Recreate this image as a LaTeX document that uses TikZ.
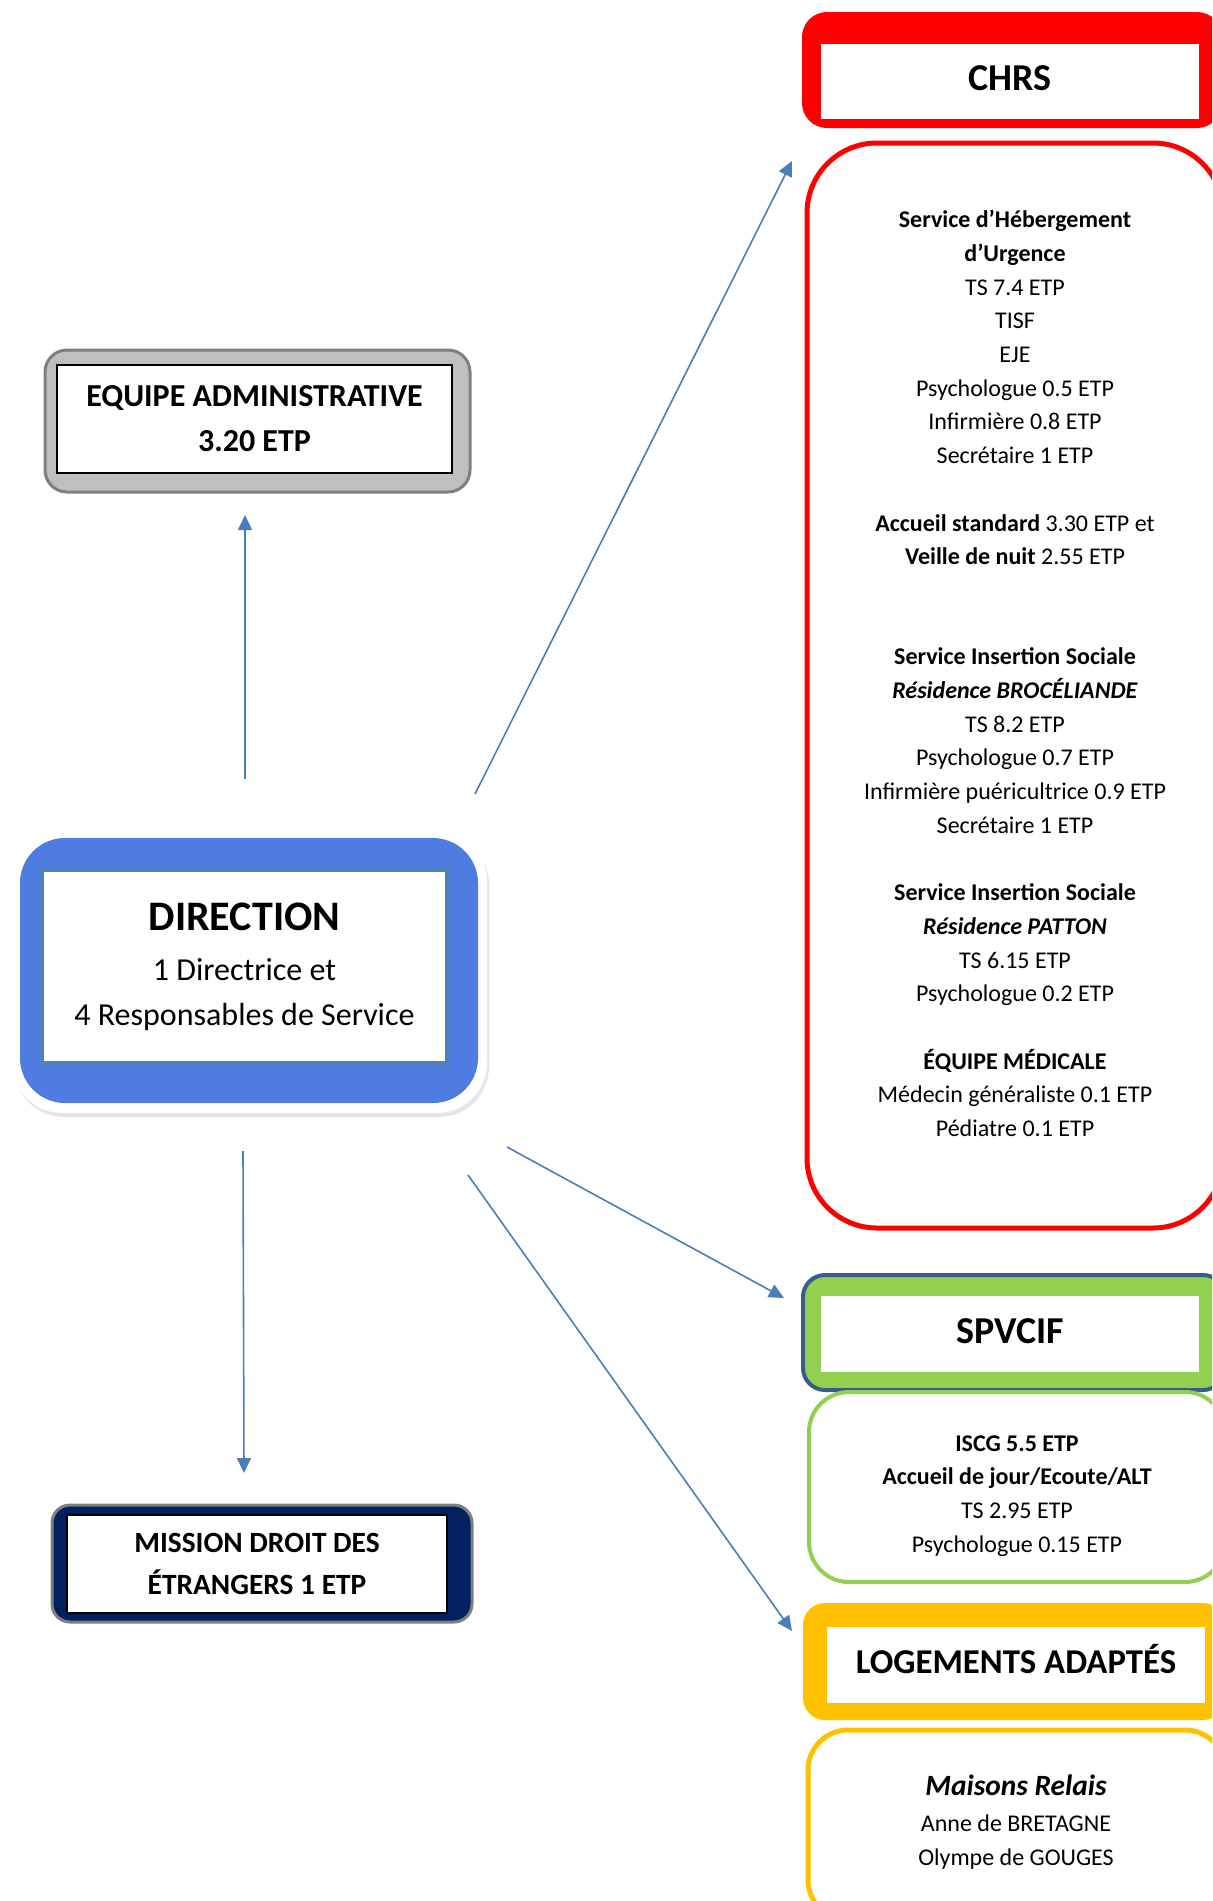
\documentclass[tikz,border=0pt]{standalone}
\usepackage{fontspec}
\setmainfont{Carlito}
\usetikzlibrary{arrows.meta,shadows}

\definecolor{dirblue}{RGB}{79,124,224}
\definecolor{dirline}{RGB}{79,129,189}
\definecolor{arrowblue}{RGB}{74,126,187}
\definecolor{spvgreen}{RGB}{146,208,80}
\definecolor{spvnavy}{RGB}{56,93,138}
\definecolor{logorange}{RGB}{255,192,0}
\definecolor{mdenavy}{RGB}{0,32,96}
\definecolor{admgray}{RGB}{191,191,191}
\definecolor{admline}{RGB}{127,127,127}

\begin{document}
\begin{tikzpicture}[x=0.5pt,y=-0.5pt,
        outersty/.style={
            rounded corners=11pt, inner sep=0pt,
        },
        innersty/.style={
            fill=white, inner sep=0pt, align=center,
        },
        bodysty/.style={
            fill=white, rounded corners=20pt, inner sep=0pt,
        },
        txtsty/.style={
            align=center, inner sep=0pt, font=\fontsize{12}{16.85}\selectfont,
        },
        headsty/.style={
            font=\fontsize{19}{22}\selectfont\bfseries,
        },
        arrowsty/.style={
            draw=arrowblue, line width=0.8pt, -{Triangle[length=7.5pt,width=7pt]}
        }
    ]
    \useasboundingbox (0,0) rectangle (1212,1901);
    \clip (0,0) rectangle (1212,1901);

    \node[outersty, fill=admgray, draw=admline, line width=1.5pt, minimum width=212.5pt, minimum height=71pt] (adm) at (257.5,421) {};
    \node[innersty, draw=black, line width=0.8pt, minimum width=197.5pt, minimum height=54pt, font=\fontsize{16}{22.5}\selectfont\bfseries] (admtxt) at (254.5,419) {EQUIPE ADMINISTRATIVE\\3.20 ETP};

    \node[fill=white, rounded corners=25pt, minimum width=237.5pt, minimum height=141.5pt, drop shadow={shadow xshift=1pt, shadow yshift=-2pt, opacity=0.2, fill=gray}] (dirglow) at (249.5,971.5) {};
    \node[fill=dirblue, rounded corners=22.5pt, minimum width=229pt, minimum height=132.5pt] (dir) at (249,970.5) {};
    \node[innersty, draw=dirline, line width=2pt, minimum width=202.5pt, minimum height=96.5pt, font=\fontsize{16}{22.5}\selectfont] (dirtxt) at (244.5,966.5) {{\fontsize{21}{25}\selectfont\bfseries DIRECTION}\\[2.5pt]1 Directrice et\\4 Responsables de Service};

    \node[outersty, rounded corners=9pt, fill=mdenavy, draw=admline, line width=1.5pt, minimum width=210pt, minimum height=58.5pt] (mde) at (262,1563.5) {};
    \node[innersty, draw=black, line width=0.8pt, minimum width=190pt, minimum height=49pt, font=\fontsize{14.7}{21}\selectfont\bfseries] (mdetxt) at (257,1564) {MISSION DROIT DES\\ÉTRANGERS 1 ETP};

    \node[outersty, rounded corners=12.5pt, fill=red, minimum width=210pt, minimum height=58pt] (chrs) at (1012,70) {};
    \node[innersty, headsty, minimum width=189pt, minimum height=37.5pt, text depth=3pt] (chrstxt) at (1010,81.5) {CHRS};
    \node[bodysty, draw=red, line width=2.5pt, rounded corners=35pt, minimum width=208pt, minimum height=542.5pt] (chrsbody) at (1015,685.5) {};
    \node[txtsty] (chrslist) at (1015,673.5) {\textbf{Service d’Hébergement}\\\textbf{d’Urgence}\\TS 7.4 ETP\\TISF\\EJE\\Psychologue 0.5 ETP\\Infirmière 0.8 ETP\\Secrétaire 1 ETP\\[16.85pt]\textbf{Accueil standard} 3.30 ETP et\\\textbf{Veille de nuit} 2.55 ETP\\[33.2pt]\textbf{Service Insertion Sociale}\\\textbf{\itshape Résidence BROCÉLIANDE}\\TS 8.2 ETP\\Psychologue 0.7 ETP\\Infirmière puéricultrice 0.9 ETP\\Secrétaire 1 ETP\\[16.85pt]\textbf{Service Insertion Sociale}\\\textbf{\itshape Résidence PATTON}\\TS 6.15 ETP\\Psychologue 0.2 ETP\\[16.85pt]\textbf{ÉQUIPE MÉDICALE}\\Médecin généraliste 0.1 ETP\\Pédiatre 0.1 ETP};

    \node[outersty, fill=spvgreen, draw=spvnavy, line width=2pt, minimum width=211pt, minimum height=57.5pt] (spv) at (1014,1332.5) {};
    \node[innersty, headsty, minimum width=189pt, minimum height=38pt, text depth=2.5pt] (spvtxt) at (1010,1334) {SPVCIF};
    \node[bodysty, draw=spvgreen, line width=2pt, minimum width=208pt, minimum height=95pt] (spvbody) at (1017,1487) {};
    \node[txtsty] (spvlist) at (1017,1496) {\textbf{ISCG 5.5 ETP}\\\textbf{Accueil de jour/Ecoute/ALT}\\TS 2.95 ETP\\Psychologue 0.15 ETP};

    \node[outersty, fill=logorange, minimum width=211pt, minimum height=58.5pt] (log) at (1014,1661.5) {};
    \node[innersty, headsty, font=\fontsize{17.4}{21}\selectfont\bfseries, minimum width=189pt, minimum height=38pt, text depth=6pt] (logtxt) at (1016,1665) {LOGEMENTS ADAPTÉS};
    \node[bodysty, draw=logorange, line width=2.5pt, minimum width=208.5pt, minimum height=95pt] (logbody) at (1016.5,1825) {};
    \node[txtsty, font=\fontsize{12}{17}\selectfont] (loglist) at (1016,1822) {{\fontsize{14.7}{17}\selectfont\bfseries\itshape Maisons Relais}\\[1pt]Anne de BRETAGNE\\Olympe de GOUGES};

    \coordinate (up0) at (245,779);
    \coordinate (up1) at (245,515);
    \coordinate (ne0) at (475,794);
    \coordinate (ne1) at (792,161);
    \coordinate (dn0) at (243,1151);
    \coordinate (dn1) at (244,1473);
    \coordinate (se0) at (507,1147);
    \coordinate (se1) at (784,1298);
    \coordinate (sse0) at (468,1175);
    \coordinate (sse1) at (792,1631);

    \draw[arrowsty] (up0) -- (up1);
    \draw[arrowsty] (ne0) -- (ne1);
    \draw[arrowsty] (dn0) -- (dn1);
    \draw[arrowsty] (se0) -- (se1);
    \draw[arrowsty] (sse0) -- (sse1);
\end{tikzpicture}
\end{document}
